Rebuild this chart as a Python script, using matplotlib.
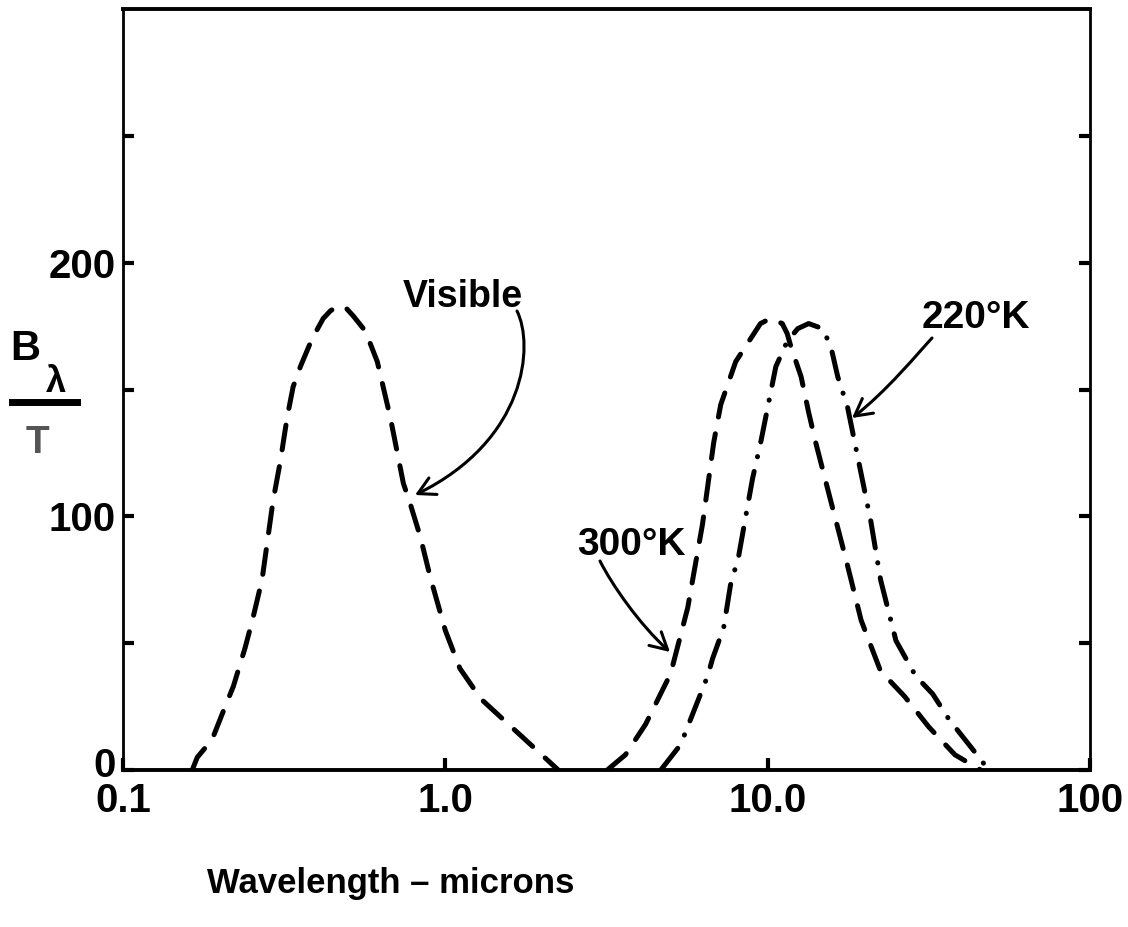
import matplotlib
matplotlib.use("Agg")
import matplotlib.pyplot as plt
from matplotlib.patches import FancyArrowPatch
from matplotlib.path import Path
from matplotlib.lines import Line2D
from matplotlib.transforms import ScaledTranslation

# ---------------- data ----------------
vis_wl = [0.164, 0.170, 0.189, 0.203, 0.220, 0.239, 0.252, 0.270, 0.292, 0.308,
          0.323, 0.337, 0.355, 0.386, 0.418, 0.440, 0.466, 0.493, 0.518, 0.565,
          0.615, 0.675, 0.741, 0.778, 0.836, 0.898, 1.00, 1.11, 1.29, 1.54,
          1.84, 2.24]
vis_b = [0, 5, 12, 22, 33, 48, 59, 75, 106, 122,
         139, 151, 159, 170, 178, 181, 183, 182, 179, 173,
         161, 139, 113, 105, 92, 76, 55, 40, 28, 19,
         10, 0]

k300_wl = [3.18, 3.62, 4.18, 5.00, 5.65, 6.28, 6.80, 7.15, 7.96, 8.85,
           9.50, 10.2, 11.1, 11.5, 11.8, 12.7, 13.4, 14.1, 15.7, 17.5,
           19.5, 22.4, 26.6, 31.6, 38.1, 45.8]
k300_b = [0, 6, 18, 38, 64, 97, 129, 144, 161, 170,
          176, 178, 176, 172, 167, 155, 141, 129, 106, 83,
          59, 39, 29, 17, 6, 0]

k220_wl = [4.66, 5.37, 6.51, 6.75, 7.30, 7.67, 8.12, 8.55, 8.98, 9.51,
           10.6, 11.5, 12.4, 13.4, 14.8, 15.7, 16.5, 17.7, 18.5, 20.9,
           22.4, 25.0, 28.8, 32.5, 36.5, 44.6, 48.5]
k220_b = [0, 10, 37, 44, 56, 73, 84, 100, 115, 129,
          159, 169, 174, 176, 174, 167, 155, 143, 131, 98,
          75, 51, 37, 30, 20, 6, 0]

x_ticks = [0.1, 1.0, 10.0, 100.0]
x_tick_labels = ["0.1", "1.0", "10.0", "100"]
y_major = [0, 100, 200]
y_major_labels = ["0", "100", "200"]
y_minor = [50, 150, 250]

# ---------------- figure ----------------
W, H = 1128, 927
fig = plt.figure(figsize=(W / 100, H / 100), dpi=100)
FONT = "Liberation Sans"

ax = fig.add_axes([123 / W, 1 - 770 / H, (1090 - 123) / W, (770 - 9) / H])
ax.set_xscale("log")
ax.set_xlim(0.1, 100)
ax.set_ylim(0, 300)

lw = 3.6
ax.plot(vis_wl, vis_b, color="black", lw=lw, linestyle=(0, (5.0, 3.4)),
        dash_capstyle="round")
ax.plot(k300_wl, k300_b, color="black", lw=lw, linestyle=(0, (5.0, 3.4)),
        dash_capstyle="round")
ax.plot(k220_wl, k220_b, color="black", lw=lw, linestyle=(0, (5.5, 3.0, 0.05, 3.0)),
        dash_capstyle="round")

# spines
for side in ["top", "bottom"]:
    ax.spines[side].set_linewidth(2.8)
for side in ["left", "right"]:
    ax.spines[side].set_linewidth(2.0)

ax.set_xticks(x_ticks)
ax.set_xticklabels(x_tick_labels)
ax.xaxis.set_minor_locator(matplotlib.ticker.NullLocator())
ax.set_yticks(y_major)
ax.set_yticklabels(y_major_labels)
ax.set_yticks(y_minor, minor=True)
ax.tick_params(axis="x", which="both", direction="in", length=9, width=3, pad=9,
               top=False, bottom=True)
ax.tick_params(axis="y", which="both", direction="in", length=8, width=3, pad=5,
               left=True, right=True)
for lab in ax.get_xticklabels() + ax.get_yticklabels():
    lab.set_fontfamily(FONT)
    lab.set_fontweight("bold")
    lab.set_fontsize(29)

# the "0" label sits a little above the baseline in the reference
zero_lab = ax.yaxis.get_major_ticks()[0].label1
zero_lab.set_transform(zero_lab.get_transform()
                       + ScaledTranslation(0, 6 / 72, fig.dpi_scale_trans))


def fp(x, y):
    return (x / W, 1 - y / H)


txt = dict(family=FONT, weight="bold", color="black")

fig.text(*fp(463, 307), "Visible", ha="center", va="baseline", fontsize=27, **txt)
fig.text(*fp(631, 555), "300°K", ha="center", va="baseline", fontsize=28, **txt)
fig.text(*fp(976, 328), "220°K", ha="center", va="baseline", fontsize=28, **txt)
fig.text(*fp(391, 893), "Wavelength – microns", ha="center", va="baseline",
         fontsize=25, **txt)

# y-axis label  B_lambda / T
fig.text(*fp(25, 360), "B", ha="center", va="baseline", fontsize=30, **txt)
fig.text(*fp(56, 392), "λ", ha="center", va="baseline", fontsize=26, **txt)
fig.add_artist(Line2D([12 / W, 77 / W], [1 - 402 / H, 1 - 402 / H],
                      transform=fig.transFigure, color="black", lw=5))
fig.text(*fp(37, 453), "T", ha="center", va="baseline", fontsize=28,
         family=FONT, weight="bold", color="#555555")


def curved_arrow(pts):
    verts = [fp(*p) for p in pts]
    codes = [Path.MOVETO, Path.CURVE4, Path.CURVE4, Path.CURVE4]
    arr = FancyArrowPatch(path=Path(verts, codes), transform=fig.transFigure,
                          arrowstyle="->,head_length=0.55,head_width=0.3",
                          mutation_scale=22, lw=2.2, color="black")
    fig.add_artist(arr)


curved_arrow([(517, 311), (534, 345), (527, 440), (415, 495)])
curved_arrow([(600, 561), (612, 585), (640, 625), (670, 652)])
curved_arrow([(932, 338), (919, 352), (886, 392), (852, 418)])

fig.savefig("out.png", dpi=100)
